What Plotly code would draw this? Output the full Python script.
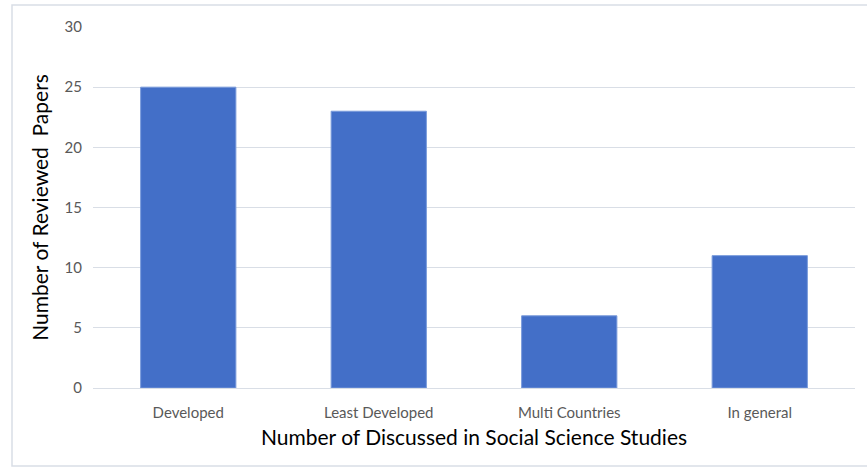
import plotly.graph_objects as go

categories = ["Developed", "Least Developed", "Multi Countries", "In general"]
values = [25, 23, 6, 11]
y_ticks = [0, 5, 10, 15, 20, 25, 30]

fig = go.Figure()
fig.add_trace(go.Bar(
    x=categories, y=values,
    marker=dict(color="#436FC8", line=dict(color="#7A9BDB", width=1)),
    width=0.5,
))

fig.update_layout(
    width=867, height=467,
    margin=dict(l=93, r=12, t=27, b=79),
    paper_bgcolor="white", plot_bgcolor="white",
    showlegend=False,
    font=dict(family="Lato, 'Open Sans', sans-serif"),
    xaxis=dict(
        showgrid=False, showline=True, linecolor="#D9DEE6", linewidth=1,
        tickfont=dict(size=15, color="#595959"), ticks="", ticklabelstandoff=11,
        title=dict(text="Number of Discussed in Social Science Studies",
                   font=dict(size=21, color="#000000"), standoff=10),
    ),
    yaxis=dict(
        range=[0, 30], tickvals=y_ticks, showgrid=True, gridcolor="#D9DEE6",
        zeroline=False, showline=False,
        tickfont=dict(size=15, color="#595959"), ticklabelstandoff=10,
        title=dict(text="Number of Reviewed  Papers",
                   font=dict(size=21, color="#000000"), standoff=10),
    ),
    shapes=[dict(type="rect", xref="paper", yref="paper",
                 x0=-81/762, x1=1.05, y0=-78/361, y1=1+22/361,
                 line=dict(color="#D9DEE6", width=1.5), fillcolor="rgba(0,0,0,0)",
                 layer="below")],
)

fig.write_html("out.html")
